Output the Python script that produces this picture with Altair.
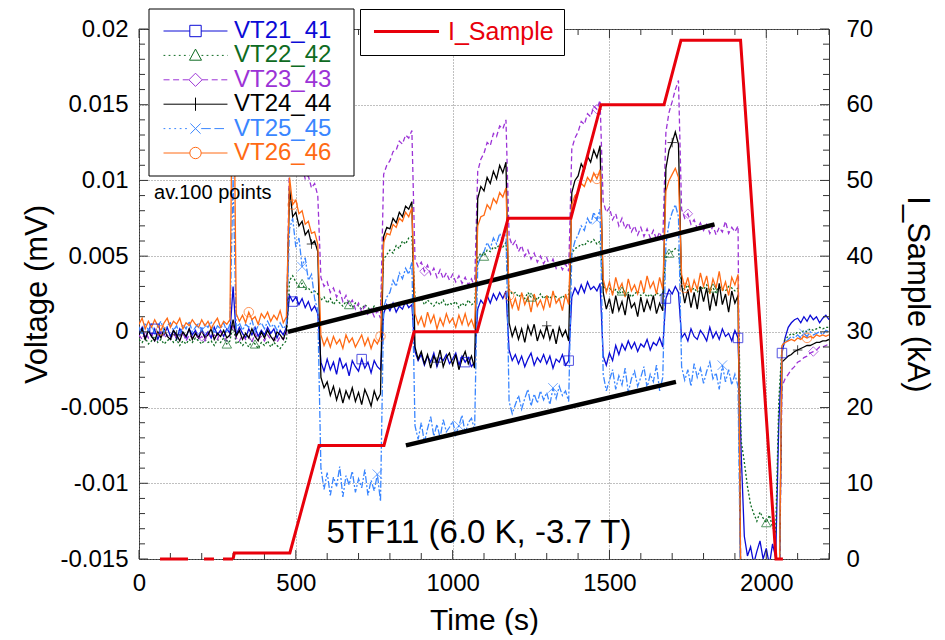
import altair as alt
import numpy as np
import pandas as pd

FONT = "Liberation Sans"

# ---------------- data ----------------
TIME_S = list(range(0, 2201, 10))

SERIES = ["VT21_41", "VT22_42", "VT23_43", "VT24_44", "VT25_45", "VT26_46"]
COLORS = ["#0b0bd6", "#0e6b22", "#9c33d6", "#000000", "#3a86ff", "#ff6a14"]

# voltages in units of 1e-3 of the axis unit, one row = 100 s
VT21_41 = [
    -0.1, 0.3, -0.4, 0.1, -0.3, 0.2, -0.5, 0.0, -0.2, 0.3,
    -0.3, 0.1, -0.5, 0.2, -0.1, -0.4, 0.2, -0.2, 0.1, -0.4,
    0.2, -0.3, 0.0, -0.4, 0.3, -0.2, 0.1, -0.3, 0.2, -0.1,
    3.0, -0.2, 0.3, -0.1, -0.4, 0.2, -0.2, 0.3, -0.3, 0.1,
    -0.2, 0.3, -0.1, 0.2, -0.4, 0.1, -0.2, 0.3, 2.4, 2.0,
    2.3, 1.8, 2.2, 1.6, 2.0, 1.4, 1.7, 1.2, -2.0, -2.6,
    -1.8, -2.5, -2.0, -2.8, -1.7, -2.4, -2.1, -2.9, -1.9, -2.3,
    -2.6, -1.8, -2.4, -2.0, -2.7, -1.9, -2.3, -2.5, 1.2, 1.8,
    1.4, 1.9, 1.3, 1.7, 1.5, 2.0, 1.6, 1.8, -1.3, -1.9,
    -1.5, -2.2, -1.6, -2.0, -1.4, -2.3, -1.7, -1.9, -1.5, -2.1,
    -1.8, -1.4, -2.2, -1.6, -2.0, -1.7, -2.3, -2.0, 1.5, 2.1,
    1.8, 2.4, 1.9, 2.5, 2.1, 2.6, 2.2, 2.7, -1.2, -1.9,
    -1.5, -2.1, -1.6, -2.3, -1.8, -1.4, -2.2, -1.7, -2.0, -1.5,
    -2.1, -1.6, -2.4, -1.8, -2.0, -1.5, -2.2, -1.9, 2.3, 2.9,
    2.5, 3.1, 2.6, 3.3, 2.8, 3.0, 2.7, 3.2, -1.6, -2.2,
    -1.4, -1.9, -0.9, -1.5, -0.8, -1.2, -0.6, -1.1, -0.7, -1.3,
    -0.8, -1.0, -0.5, -1.2, -0.7, -0.9, -0.4, -1.0, 2.2, 2.8,
    2.5, 3.0, 2.6, -0.4, -0.1, -0.6, 0.2, -0.3, -0.5, 0.1,
    -0.2, -0.6, 0.3, -0.4, 0.0, -0.5, 0.2, -0.3, -0.1, -0.6,
    0.1, -0.4, -8.0, -13.5, -14.8, -14.2, -15.3, -14.5, -13.8, -15.0,
    -14.3, -15.4, -14.0, -14.9, -6.0, -1.4, -0.4, 0.3, 0.6, 0.8,
    0.9, 0.6, 1.0, 0.7, 1.1, 0.8, 1.0, 0.6, 0.9, 1.1,
    0.8,
]
VT22_42 = [
    -0.5, -0.7, -0.4, -0.8, -0.6, -0.3, -0.7, -0.5, -0.8, -0.6,
    -0.4, -0.7, -0.5, -0.9, -0.6, -0.8, -0.5, -0.7, -0.4, -0.6,
    -0.8, -0.5, -0.7, -0.6, -0.9, -0.5, -0.7, -0.4, -0.8, -0.6,
    0.5, -0.8, -0.6, -0.9, -0.7, -1.0, -0.6, -0.8, -1.1, -0.7,
    -0.9, -0.6, -1.0, -0.7, -0.9, -1.1, -0.8, -0.6, 3.4, 3.7,
    3.3, 3.0, 3.2, 2.8, 2.9, 2.6, 2.7, 2.5, 2.1, 2.3,
    1.9, 2.2, 1.8, 2.1, 1.9, 1.7, 2.0, 1.8, 1.6, 1.9,
    1.7, 1.5, 1.8, 1.6, 1.4, 1.7, 1.5, 1.6, 4.8, 5.1,
    5.4, 5.2, 5.7, 5.5, 6.0, 5.8, 6.2, 6.3, 2.3, 2.0,
    2.2, 1.8, 2.1, 1.9, 1.7, 2.0, 1.8, 2.1, 1.7, 1.9,
    1.8, 2.0, 1.6, 1.9, 1.7, 2.1, 1.8, 1.9, 4.9, 5.2,
    5.0, 5.4, 5.3, 5.6, 5.5, 5.8, 5.6, 5.9, 2.8, 2.5,
    2.6, 2.3, 2.5, 2.2, 2.6, 2.3, 2.4, 2.1, 2.5, 2.2,
    2.4, 2.2, 2.5, 2.3, 2.1, 2.4, 2.2, 2.5, 5.2, 5.5,
    5.6, 5.8, 5.7, 6.0, 5.9, 6.1, 5.8, 6.0, 3.0, 2.8,
    2.9, 2.6, 2.8, 2.5, 2.7, 2.4, 2.6, 2.3, 2.5, 2.7,
    2.4, 2.6, 2.3, 2.5, 2.2, 2.6, 2.4, 2.5, 4.9, 5.2,
    5.3, 5.5, 5.4, 3.0, 2.8, 3.1, 2.7, 2.9, 2.6, 3.0,
    2.8, 3.1, 2.7, 2.9, 2.6, 3.0, 2.8, 2.7, 3.0, 2.9,
    2.7, 2.9, -7.2, -8.6, -10.2, -11.4, -12.0, -12.5, -11.9, -12.3,
    -12.6, -12.1, -12.9, -13.2, -4.5, -1.0, -0.5, -0.3, -0.1, -0.2,
    0.0, -0.1, 0.1, 0.0, 0.2, 0.1, 0.2, 0.3, 0.2, 0.3,
    0.3,
]
VT23_43 = [
    -0.2, -0.5, 0.0, -0.4, -0.1, -0.6, -0.3, 0.1, -0.4, -0.2,
    -0.5, -0.1, -0.4, -0.3, 0.0, -0.6, -0.2, -0.4, -0.1, -0.5,
    -0.3, -0.6, -0.1, -0.4, -0.2, -0.5, 0.0, -0.3, -0.6, -0.2,
    0.5, -0.4, -0.6, -0.2, -0.5, -0.3, -0.7, -0.1, -0.5, -0.3,
    -0.6, -0.2, -0.5, -0.4, -0.7, -0.3, -0.5, -0.2, 11.8, 11.2,
    11.5, 10.6, 10.9, 10.1, 10.3, 9.5, 9.8, 9.0, 3.6, 3.0,
    3.3, 2.6, 2.9, 2.3, 2.7, 2.0, 2.4, 1.8, 2.1, 1.5,
    1.9, 1.3, 1.7, 1.1, 1.5, 1.0, 1.4, 0.9, 10.4, 11.0,
    11.3, 11.9, 12.0, 12.6, 12.4, 13.0, 12.8, 13.3, 4.8, 4.3,
    4.6, 4.0, 4.4, 3.8, 4.2, 3.6, 4.1, 3.5, 3.9, 3.4,
    3.8, 3.3, 3.7, 3.2, 3.6, 3.1, 3.5, 3.0, 10.6, 11.4,
    11.8, 12.5, 12.3, 13.1, 12.9, 13.6, 13.4, 14.0, 6.3, 5.7,
    6.0, 5.3, 5.7, 5.0, 5.4, 4.8, 5.2, 4.6, 5.0, 4.5,
    4.9, 4.3, 4.8, 4.2, 4.6, 4.1, 4.5, 4.0, 12.1, 12.8,
    13.2, 13.9, 13.7, 14.4, 14.2, 14.9, 14.7, 15.3, 8.6, 7.9,
    8.2, 7.4, 7.8, 7.0, 7.5, 6.8, 7.2, 6.6, 7.0, 6.4,
    6.9, 6.3, 6.8, 6.2, 6.7, 6.1, 6.6, 6.0, 13.2, 14.5,
    15.2, 16.0, 16.6, 8.1, 7.5, 7.8, 7.1, 7.4, 6.8, 7.2,
    6.7, 7.1, 6.5, 7.0, 6.4, 6.9, 6.6, 7.3, 6.5, 6.9,
    6.6, 7.0, -20, -20, -20, -20, -20, -20, -20, -20,
    -20, -20, -20, -20, -20, -3.6, -3.1, -2.8, -2.5, -2.3,
    -2.0, -1.9, -1.7, -1.6, -1.4, -1.3, -1.2, -1.0, -1.0, -0.9,
    -0.8,
]
VT24_44 = [
    -0.2, 0.2, -0.5, 0.1, -0.3, -0.6, 0.0, -0.4, 0.2, -0.3,
    -0.5, 0.1, -0.2, -0.6, 0.0, -0.3, 0.2, -0.5, -0.1, -0.4,
    0.1, -0.4, -0.2, 0.2, -0.5, -0.1, -0.3, 0.1, -0.4, -0.2,
    0.8, -0.3, 0.1, -0.5, -0.1, -0.4, 0.2, -0.3, -0.6, 0.0,
    -0.4, 0.1, -0.3, -0.6, 0.0, -0.2, -0.5, 0.1, 9.5, 7.6,
    7.9, 7.0, 7.3, 6.4, 6.7, 5.8, 6.0, 5.3, -3.0, -3.7,
    -3.3, -4.2, -3.6, -4.5, -3.8, -4.7, -3.9, -4.4, -3.7, -4.6,
    -4.0, -4.8, -3.8, -4.3, -4.9, -3.9, -4.5, -4.1, 6.3, 6.9,
    6.8, 7.5, 7.2, 7.9, 7.6, 8.3, 8.1, 8.6, -1.0, -1.8,
    -1.3, -2.1, -1.5, -2.4, -1.6, -2.0, -1.2, -2.3, -1.7, -1.4,
    -2.2, -1.5, -2.5, -1.8, -1.3, -2.1, -1.6, -2.4, 8.8, 9.6,
    9.3, 10.2, 9.8, 10.6, 10.1, 11.0, 10.5, 11.2, 0.6, -0.3,
    0.3, -0.5, 0.2, -0.7, 0.4, -0.2, 0.5, -0.6, 0.1, -0.4,
    0.4, -0.5, 0.2, -0.8, 0.3, -0.3, 0.1, -0.6, 9.2, 10.0,
    10.3, 11.1, 10.7, 11.6, 11.2, 12.0, 11.5, 12.3, 2.6, 1.5,
    2.2, 1.2, 2.4, 1.4, 2.0, 1.1, 2.5, 1.6, 1.9, 1.0,
    2.3, 1.3, 2.1, 1.5, 2.4, 1.2, 1.9, 1.4, 10.8, 12.0,
    12.5, 13.2, 12.4, 3.1, 1.9, 2.8, 1.6, 2.6, 1.5, 3.0,
    2.0, 2.9, 1.4, 2.6, 1.7, 3.2, 1.8, 2.5, 1.3, 2.7,
    1.9, 2.4, -20, -20, -20, -20, -20, -20, -20, -20,
    -20, -20, -20, -20, -20, -2.0, -1.8, -1.6, -1.5, -1.3,
    -1.2, -1.1, -1.0, -0.9, -0.9, -0.8, -0.7, -0.7, -0.6, -0.6,
    -0.5,
]
VT25_45 = [
    0.3, -0.2, 0.6, 0.1, 0.5, -0.1, 0.4, 0.7, 0.0, 0.4,
    0.6, 0.1, 0.4, -0.2, 0.5, 0.2, 0.7, 0.0, 0.3, 0.6,
    0.1, 0.5, 0.3, 0.7, -0.1, 0.4, 0.2, 0.6, 0.0, 0.5,
    10.2, 0.2, 0.6, 0.1, 0.5, 0.3, 0.8, 0.0, 0.4, 0.6,
    0.2, 0.7, 0.3, 0.5, 0.1, 0.6, 0.2, 0.5, 6.8, 7.5,
    5.6, 6.2, 4.3, 4.9, 3.4, 3.8, 2.2, 1.4, -9.0, -10.4,
    -9.3, -10.8, -9.6, -10.2, -8.9, -10.9, -9.5, -10.1, -9.2, -10.6,
    -9.7, -10.3, -9.1, -10.8, -9.8, -10.5, -9.4, -11.2, 1.6, 2.3,
    2.6, 3.4, 3.0, 3.9, 3.5, 4.2, 3.8, 4.6, -6.2, -7.1,
    -6.0, -7.3, -6.4, -5.6, -6.9, -6.1, -7.0, -5.8, -6.6, -6.3,
    -5.9, -6.8, -6.2, -5.5, -6.7, -6.0, -5.7, -6.5, 4.4, 5.0,
    5.3, 5.9, 5.5, 6.2, 5.8, 6.5, 6.0, 6.8, -4.6, -5.4,
    -4.8, -4.2, -5.1, -4.4, -3.8, -4.9, -4.1, -4.7, -3.9, -4.5,
    -4.0, -4.8, -3.7, -4.4, -3.6, -4.2, -3.9, -4.6, 5.2, 6.0,
    6.4, 7.0, 6.7, 7.5, 7.1, 7.9, 7.4, 8.1, -2.8, -3.9,
    -3.2, -2.5, -3.8, -2.9, -3.5, -2.4, -4.0, -3.1, -2.6, -3.6,
    -3.0, -2.3, -3.7, -2.8, -3.3, -2.2, -3.9, -3.0, 5.8, 7.2,
    7.9, 8.4, 7.6, -2.3, -3.2, -2.5, -3.6, -2.1, -3.0, -2.4,
    -3.4, -2.6, -2.0, -3.1, -2.7, -3.8, -2.2, -3.3, -2.5, -3.5,
    -2.8, -3.6, -20, -20, -20, -20, -20, -20, -20, -20,
    -20, -20, -20, -20, -20, -1.2, -0.7, -0.5, -0.3, -0.4,
    -0.2, -0.4, -0.1, -0.3, 0.0, -0.2, -0.1, 0.0, -0.2, 0.1,
    0.0,
]
VT26_46 = [
    0.5, 0.9, 0.2, 0.7, 0.3, 0.8, 0.4, 0.1, 0.6, 0.9,
    0.3, 0.7, 0.5, 0.9, 0.2, 0.6, 0.4, 0.8, 0.5, 0.3,
    0.8, 0.4, 0.7, 0.2, 0.6, 0.9, 0.3, 0.7, 0.5, 0.8,
    22.0, 1.2, 0.7, 1.1, 0.6, 1.3, 0.8, 1.0, 0.5, 1.2,
    0.9, 1.3, 0.7, 1.1, 0.8, 1.4, 0.6, 1.0, 10.2, 8.4,
    8.7, 7.8, 8.0, 7.1, 7.3, 6.5, 6.6, 5.8, -0.2, -0.9,
    -0.4, -1.0, -0.3, -0.8, -0.5, -1.1, -0.2, -0.7, -0.4, -1.0,
    -0.6, -0.2, -0.9, -0.4, -1.1, -0.5, -0.8, -0.3, 5.9, 6.5,
    6.4, 7.1, 6.9, 7.5, 7.3, 7.9, 7.6, 8.2, 1.2, 0.5,
    1.0, 0.3, 1.3, 0.6, 1.1, 0.2, 0.9, 0.4, 1.2, 0.6,
    0.9, 0.3, 1.1, 0.5, 1.2, 0.4, 0.8, 0.2, 7.0, 7.6,
    7.7, 8.4, 8.1, 8.8, 8.5, 9.2, 8.9, 9.5, 2.4, 1.6,
    2.2, 1.4, 2.6, 1.8, 2.3, 1.3, 2.5, 1.7, 2.1, 1.5,
    2.4, 1.6, 2.7, 1.9, 2.2, 1.4, 2.5, 1.8, 8.4, 9.0,
    9.2, 9.8, 9.6, 10.2, 9.9, 10.5, 10.1, 10.7, 3.5, 2.6,
    3.3, 2.4, 3.6, 2.8, 3.2, 2.3, 3.5, 2.7, 3.1, 2.5,
    3.4, 2.6, 3.7, 2.9, 3.3, 2.5, 3.6, 2.8, 9.3, 10.0,
    10.4, 10.8, 10.2, 3.8, 2.9, 3.6, 2.6, 3.4, 2.8, 3.9,
    3.0, 3.7, 2.5, 3.5, 2.9, 4.0, 2.7, 3.3, 2.4, 3.6,
    3.1, 3.8, -20, -20, -20, -20, -20, -20, -20, -20,
    -20, -20, -20, -20, -20, -0.9, -0.7, -0.6, -0.5, -0.6,
    -0.4, -0.5, -0.3, -0.4, -0.3, -0.4, -0.2, -0.3, -0.2, -0.3,
    -0.2,
]
VALUES = [VT21_41, VT22_42, VT23_43, VT24_44, VT25_45, VT26_46]

# sample indices where the reference shows a marker
MARKER_IDX = {
    "VT21_41": [5, 49, 71, 104, 137, 168, 191, 205],
    "VT22_42": [28, 37, 52, 67, 110, 125, 154, 169, 183, 200],
    "VT23_43": [20, 50, 91, 146, 175, 215],
    "VT24_44": [12, 55, 95, 130, 170, 210],
    "VT25_45": [20, 52, 76, 102, 132, 146, 186, 212],
    "VT26_46": [7, 35, 49, 77, 118, 146, 174, 213],
}

# I_Sample (kA)
CURRENT_T = [300, 304, 481, 574, 781, 877, 1078, 1177, 1377, 1473, 1674, 1728, 1918, 2031, 2053]
CURRENT_KA = [0, 0.8, 0.8, 15, 15, 30, 30, 45, 45, 60, 60, 68.5, 68.5, 0, 0]
ZERO_T = [67, 300]
ZERO_KA = [0, 0]

# hand-drawn trend lines (1e-3 units)
TREND_SEG = ["upper", "upper", "lower", "lower"]
TREND_T = [475, 1835, 851, 1712]
TREND_V = [0.0, 7.1, -7.5, -3.3]

NOTE_AV = "av.100 points"
NOTE_RUN = "5TF11 (6.0 K, -3.7 T)"

X_TICKS = list(range(0, 2201, 100))
V_TICKS = list(range(-15, 21))       # 1e-3 units
I_TICKS = list(range(0, 71, 2))

for vals in VALUES:
    assert len(vals) == len(TIME_S), len(vals)

# ---------------- tables ----------------
frames, mframes = [], []
for name, vals in zip(SERIES, VALUES):
    df = pd.DataFrame({"t": TIME_S, "v": np.array(vals) / 1000.0, "series": name})
    frames.append(df)
    mframes.append(df.iloc[MARKER_IDX[name]])

trend_df = pd.DataFrame({"t": TREND_T, "v": np.array(TREND_V) / 1000.0, "seg": TREND_SEG})
cur_df = pd.DataFrame({"t": CURRENT_T, "i": CURRENT_KA, "name": "I_Sample"})
zero_df = pd.DataFrame({"t": ZERO_T, "i": ZERO_KA, "name": "I_Sample"})

xt = pd.DataFrame({"t": X_TICKS})
xt_major = xt[xt.t % 500 == 0]
xt_minor = xt[xt.t % 500 != 0]
vt = pd.DataFrame({"k": V_TICKS})
vt["v"] = vt.k / 1000.0
vt_major = vt[vt.k % 5 == 0]
vt_minor = vt[vt.k % 5 != 0]
it = pd.DataFrame({"i": I_TICKS})
it_major = it[it.i % 10 == 0]
it_minor = it[it.i % 10 != 0]

# ---------------- scales / axes ----------------
W, H = 690, 530
xs = alt.Scale(domain=[0, 2200], nice=False, zero=False)
ys = alt.Scale(domain=[-0.015, 0.02], nice=False, zero=False)
cs = alt.Scale(domain=[0, 70], nice=False, zero=False)
GRID = dict(grid=True, gridDash=[1, 2], gridColor="#808080", gridWidth=1, gridOpacity=1)

x_axis = alt.Axis(values=[0, 500, 1000, 1500, 2000], labelExpr="datum.value + ''",
                  title="Time (s)", ticks=False, tickSize=0,
                  domain=False, labelFontSize=24, titleFontSize=30, labelPadding=12,
                  titlePadding=10, labelFlush=False, **GRID)
y_axis = alt.Axis(values=[v / 1000 for v in range(-15, 21, 5)], labelExpr="datum.value + ''",
                  title="Voltage (mV)", ticks=False, tickSize=0, domain=False,
                  labelFontSize=24, titleFontSize=31, labelPadding=11, titlePadding=6, **GRID)
c_axis = alt.Axis(orient="right", values=list(range(0, 71, 10)), title="I_Sample (kA)",
                  grid=False, ticks=False, tickSize=0, domain=False, labelFontSize=24,
                  titleFontSize=31, labelPadding=17, titlePadding=28)

X = alt.X("t:Q", scale=xs, axis=x_axis)
Y = alt.Y("v:Q", scale=ys, axis=y_axis)
YC = alt.Y("i:Q", scale=cs, axis=c_axis)


# ---------------- legend symbols ----------------
def hseg(x0, x1, pattern):
    parts, x, k = [], x0, 0
    while x < x1 - 1e-9:
        on, off = pattern[k % len(pattern)]
        end = min(x + on, x1)
        parts.append(f"M{x:.2f},0H{end:.2f}")
        x = end + off
        k += 1
    return "".join(parts)


SOLID = [(100, 0)]
L = 5.33
LEG_PATHS = [
    hseg(-L, -0.95, SOLID) + hseg(0.95, L, SOLID) + "M-0.95,-0.95H0.95V0.95H-0.95Z",
    hseg(-L, -1.0, [(0.3, 0.55)]) + hseg(1.0, L, [(0.3, 0.55)]) + "M0,-1.05L1.0,0.8H-1.0Z",
    hseg(-L, -1.1, [(1.0, 0.6)]) + hseg(1.1, L, [(1.0, 0.6)]) + "M0,-1.1L1.1,0L0,1.1L-1.1,0Z",
    hseg(-L, L, SOLID) + "M0,-1.1V1.1",
    hseg(-L, -0.95, [(0.3, 0.6)]) + hseg(0.95, L, [(1.6, 0.6)])
    + "M-0.85,-0.85L0.85,0.85M-0.85,0.85L0.85,-0.85",
    hseg(-L, -0.95, SOLID) + hseg(0.95, L, SOLID)
    + "M0.95,0A0.95,0.95,0,1,1,-0.95,0A0.95,0.95,0,1,1,0.95,0Z",
]

DASHES = [None, [2, 2], [5, 3], None, [7, 2, 2, 2], None]
SHAPES = ["square", "triangle-up", "diamond", "M0,-1V1M-1,0H1", "M-1,-1L1,1M-1,1L1,-1", "circle"]

LEG_X, LEG_TOP, LEG_PAD, ROW, LEG_FS = 10, -20, 10, 24.4, 24

# ---------------- voltage group ----------------
vlayers = []
for i, (name, df, dash, col) in enumerate(zip(SERIES, frames, DASHES, COLORS)):
    kw = dict(clip=True, strokeWidth=1.3)
    if dash:
        kw["strokeDash"] = dash
    leg = alt.Legend(
        orient="none", legendX=LEG_X + LEG_PAD, legendY=LEG_TOP + LEG_PAD + ROW * i,
        title=None, padding=0, labelFont=FONT, labelFontSize=LEG_FS, labelColor=col,
        labelOffset=26.5, labelLimit=400, symbolSize=144, symbolOffset=24.5,
        symbolStrokeWidth=1, symbolType=LEG_PATHS[i], symbolStrokeColor=col,
        symbolFillColor="transparent",
    )
    vlayers.append(
        alt.Chart(df).mark_line(**kw).encode(
            x=X, y=Y,
            color=alt.Color("series:N", scale=alt.Scale(domain=[name], range=[col]), legend=leg),
        )
    )

for i, (mdf, col) in enumerate(zip(mframes, COLORS)):
    vlayers.append(
        alt.Chart(mdf).mark_point(filled=False, size=90, strokeWidth=1, clip=True,
                                  color=col, shape=SHAPES[i]).encode(x=X, y=Y)
    )

vlayers.append(
    alt.Chart(trend_df).mark_line(color="black", strokeWidth=4.5, clip=True).encode(
        x=X, y=Y, detail="seg:N")
)
vlayers.append(
    alt.Chart(pd.DataFrame({"t": [48], "v": [0.00878], "label": [NOTE_AV]}))
    .mark_text(align="left", baseline="alphabetic", font=FONT, fontSize=20, color="black")
    .encode(x=X, y=Y, text="label:N")
)
vlayers.append(
    alt.Chart(pd.DataFrame({"t": [1084], "v": [-0.01394], "label": [NOTE_RUN]}))
    .mark_text(align="center", baseline="alphabetic", font=FONT, fontSize=33, color="black")
    .encode(x=X, y=Y, text="label:N")
)

TICK = dict(color="#333333", strokeWidth=1)
for d, ln in ((xt_major, 9), (xt_minor, 6)):
    vlayers.append(alt.Chart(d).mark_rule(**TICK).encode(x=X, y=alt.value(H), y2=alt.value(H - ln)))
    vlayers.append(alt.Chart(d).mark_rule(**TICK).encode(x=X, y=alt.value(0), y2=alt.value(ln)))
for d, ln in ((vt_major, 9), (vt_minor, 6)):
    vlayers.append(alt.Chart(d).mark_rule(**TICK).encode(y=Y, x=alt.value(0), x2=alt.value(ln)))

# frame of the series legend
box_bottom = LEG_TOP + 2 * LEG_PAD + ROW * (len(SERIES) - 1) + LEG_FS + 1
vlayers.append(
    alt.Chart(pd.DataFrame({"k": [0]})).mark_rect(fill="white", stroke="black", strokeWidth=1).encode(
        x=alt.value(LEG_X), x2=alt.value(LEG_X + 205), y=alt.value(LEG_TOP), y2=alt.value(box_bottom))
)

volt = alt.layer(*vlayers).resolve_scale(color="independent")

# ---------------- current group ----------------
legend_c = alt.Legend(
    orient="none", legendX=221, legendY=LEG_TOP, title=None, fillColor="white",
    strokeColor="black", padding=10, labelFont=FONT, labelFontSize=25,
    labelColor="#e8000b", labelOffset=29, labelLimit=400, symbolSize=144,
    symbolOffset=24, symbolStrokeWidth=3, symbolType="M-5.42,0H5.42",
)
cur_color = alt.Color("name:N", scale=alt.Scale(domain=["I_Sample"], range=["#e8000b"]), legend=legend_c)

clayers = [
    alt.Chart(zero_df).mark_line(strokeWidth=3, strokeDash=[28, 16, 10, 9, 10, 400]).encode(
        x=X, y=YC, color=cur_color),
    alt.Chart(cur_df).mark_line(strokeWidth=3).encode(x=X, y=YC, color=cur_color),
]
for d, ln in ((it_major, 9), (it_minor, 6)):
    clayers.append(alt.Chart(d).mark_rule(**TICK).encode(y=YC, x=alt.value(W), x2=alt.value(W - ln)))
cur = alt.layer(*clayers)

chart = (
    alt.layer(volt, cur)
    .resolve_scale(y="independent", color="independent")
    .properties(width=W, height=H, padding={"left": 13, "top": 0, "right": 4, "bottom": 0},
                background="white")
    .configure_view(stroke="#333333", strokeWidth=1)
    .configure_axis(labelFont=FONT, titleFont=FONT, titleFontWeight="normal",
                    labelColor="black", titleColor="black")
)

chart.save("out.html", embed_options={"renderer": "svg", "actions": False})
